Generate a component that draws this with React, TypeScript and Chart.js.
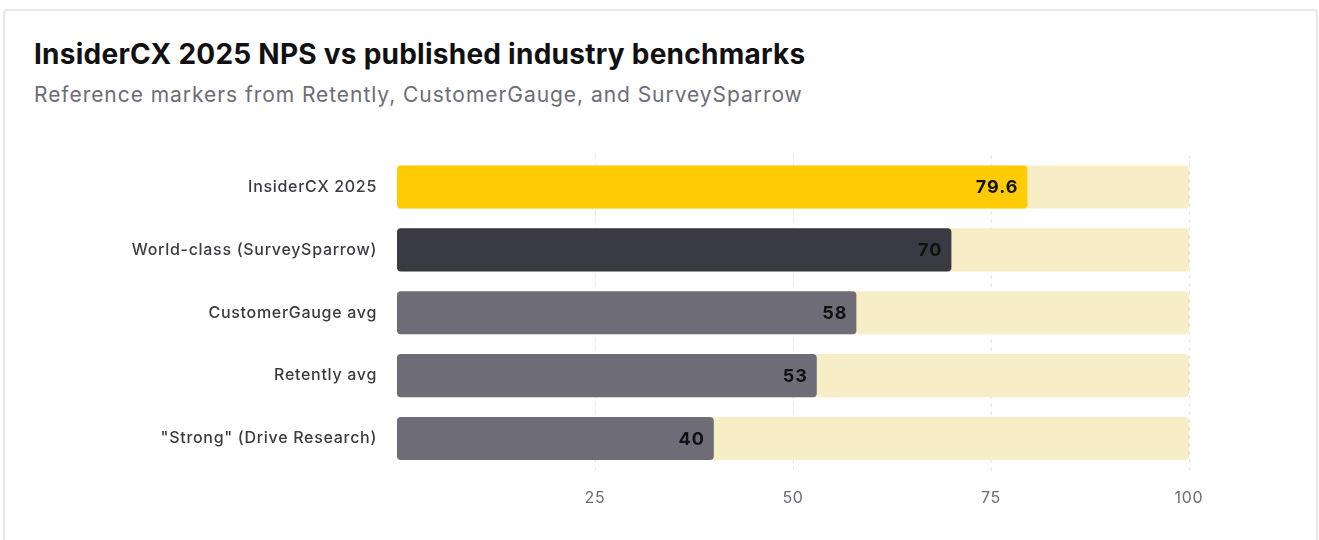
import React, { useEffect, useRef } from "react";
import { Chart, registerables } from "chart.js";

Chart.register(...registerables);

const categories = [
  "InsiderCX 2025",
  "World-class (SurveySparrow)",
  "CustomerGauge avg",
  "Retently avg",
  "\"Strong\" (Drive Research)",
];
const npsValues = [79.6, 70, 58, 53, 40];
const valueLabels = ["79.6", "70", "58", "53", "40"];
const trackValues = [100, 100, 100, 100, 100];
const barColors = ["#FFCB05", "#3A3A43", "#6D6C77", "#6D6C77", "#6D6C77"];
const xTicks = [25, 50, 75, 100];

const FONT = "Inter, 'Noto Sans', sans-serif";

const spacingPlugin = {
  id: "spacing",
  beforeDraw(chart: any) {
    (chart.ctx as any).letterSpacing = "0.7px";
  },
};

const valueLabelPlugin = {
  id: "valueLabels",
  afterDatasetsDraw(chart: any) {
    const meta = chart.getDatasetMeta(0);
    const ctx = chart.ctx;
    ctx.save();
    (ctx as any).letterSpacing = "1px";
    ctx.font = `700 18px ${FONT}`;
    ctx.fillStyle = "#111111";
    ctx.textAlign = "right";
    ctx.textBaseline = "middle";
    meta.data.forEach((bar: any, i: number) => {
      ctx.fillText(valueLabels[i], bar.x - 9, bar.y + 1);
    });
    ctx.restore();
  },
};

export default function App() {
  const canvasRef = useRef<HTMLCanvasElement | null>(null);

  useEffect(() => {
    document.body.style.margin = "0";
    const canvas = canvasRef.current;
    if (!canvas) return;
    const chart = new Chart(canvas, {
      type: "bar",
      data: {
        labels: categories,
        datasets: [
          {
            label: "NPS",
            data: npsValues,
            backgroundColor: barColors,
            borderRadius: 4,
            borderSkipped: false,
            grouped: false,
            barPercentage: 0.685,
            categoryPercentage: 1,
          } as any,
          {
            label: "Track",
            data: trackValues,
            backgroundColor: "#F7EDC6",
            borderRadius: 4,
            borderSkipped: false,
            grouped: false,
            barPercentage: 0.685,
            categoryPercentage: 1,
          } as any,
        ],
      },
      options: {
        indexAxis: "y",
        animation: false,
        responsive: false,
        maintainAspectRatio: false,
        layout: { padding: { top: 25.5, right: 98, bottom: 0, left: 0 } },
        plugins: {
          legend: { display: false },
          tooltip: { enabled: false },
          title: { display: false },
        },
        scales: {
          x: {
            min: 0,
            max: 100,
            afterBuildTicks(scale: any) {
              scale.ticks = xTicks.map((v) => ({ value: v }));
            },
            afterFit(scale: any) {
              scale.height = 40;
            },
            grid: {
              drawTicks: false,
              color: "#E2E2E2",
              lineWidth: 1,
            },
            border: { display: false, dash: [3, 5] },
            ticks: {
              padding: 19,
              color: "#6D6C77",
              font: { family: FONT, size: 16 },
            },
          },
          y: {
            grid: { display: false, drawTicks: false },
            border: { display: false },
            afterFit(scale: any) {
              scale.width = 363;
              scale.paddingTop = 0;
              scale.paddingBottom = 0;
            },
            ticks: {
              padding: 20,
              color: "#3A3A43",
              font: { family: FONT, size: 16, weight: 500 as any },
            },
          },
        },
      },
      plugins: [spacingPlugin, valueLabelPlugin],
    });
    return () => chart.destroy();
  }, []);

  return (
    <div
      style={{
        position: "absolute",
        left: 3,
        top: 9,
        width: 1315,
        height: 600,
        border: "2px solid #E8E8E8",
        borderRadius: 4,
        background: "#FFFFFF",
        boxSizing: "border-box",
        fontFamily: FONT,
        overflow: "hidden",
      }}
    >
      <div
        style={{
          position: "absolute",
          left: 29,
          top: 26,
          fontSize: 28,
          fontWeight: 700,
          color: "#111111",
          whiteSpace: "nowrap",
          lineHeight: "34px",
          letterSpacing: "0.25px",
        }}
      >
        InsiderCX 2025 NPS vs published industry benchmarks
      </div>
      <div
        style={{
          position: "absolute",
          left: 29,
          top: 71,
          fontSize: 21,
          fontWeight: 400,
          color: "#6D6C77",
          whiteSpace: "nowrap",
          lineHeight: "26px",
          letterSpacing: "0.95px",
        }}
      >
        Reference markers from Retently, CustomerGauge, and SurveySparrow
      </div>
      <canvas
        ref={canvasRef}
        width={1253}
        height={380}
        style={{ position: "absolute", left: 29, top: 119, width: 1253, height: 380 }}
      />
    </div>
  );
}
